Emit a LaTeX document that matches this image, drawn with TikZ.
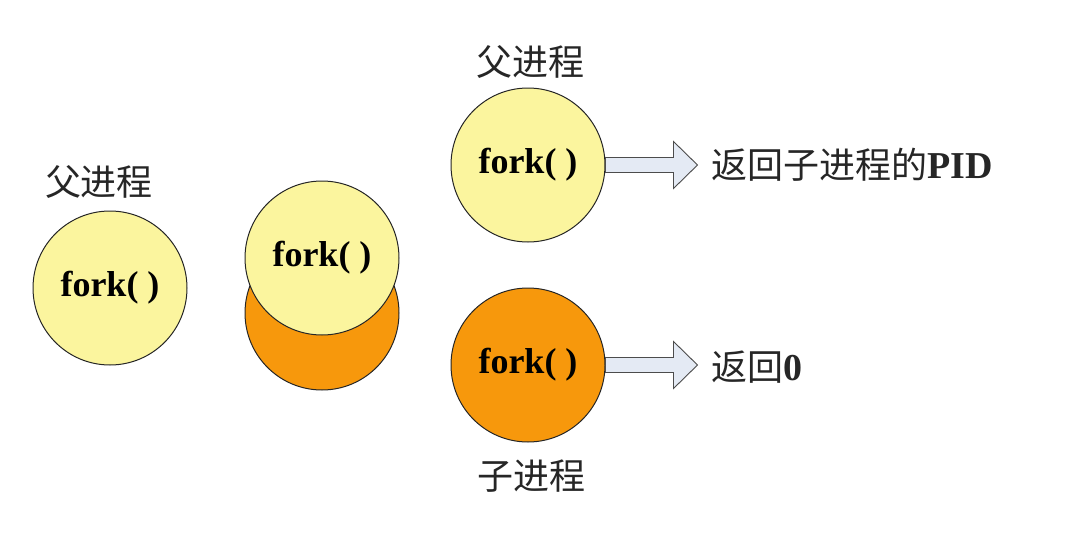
\documentclass[tikz,border=0pt]{standalone}
\usepackage{fontspec}
\setmainfont{Liberation Serif}
\newfontfamily\cjk{Noto Sans CJK SC}
\usepackage{tikz}

\definecolor{procyellow}{HTML}{FBF59E}
\definecolor{procorange}{HTML}{F7980C}
\definecolor{arrowfill}{HTML}{E4EAF4}

\begin{document}
\begin{tikzpicture}[x=1pt,y=-1pt]
  \useasboundingbox (0,0) rectangle (1074,541);

    \begin{scope}[shape=circle]
    \tikzstyle{every node}=[draw=black!85, line width=1pt, minimum size=154pt, inner sep=0pt, font=\fontsize{36}{40}\selectfont\bfseries]
    \node[fill=procyellow] (p1) at (110,288) {fork( )};
    \node[fill=procorange] (c2) at (322,313) {};
    \node[fill=procyellow] (p2) at (322,258) {fork( )};
    \node[fill=procyellow] (p3) at (528,165) {fork( )};
    \node[fill=procorange] (c3) at (528,365) {fork( )};
    \end{scope}

    \begin{scope}
    \tikzstyle{every node}=[text=black!85, font=\fontsize{36}{40}\selectfont]
    \node (l1) at (99,182) {\cjk 父进程};
    \node (l3) at (530,62) {\cjk 父进程};
    \node (l4) at (531,476) {\cjk 子进程};
    \node[anchor=west] (r3) at (708,165) {\cjk 返回子进程的\rmfamily\bfseries\fontsize{38}{40}\selectfont PID};
    \node[anchor=west] (r4) at (708,367) {\cjk 返回\rmfamily\bfseries\fontsize{38}{40}\selectfont 0};
    \end{scope}

  \begin{scope}[draw=black!70, line width=0.9pt, fill=arrowfill]
    \filldraw (p3.east) ++(0,-7.5) -- ++(68,0) -- ++(0,-16) -- ++(24,23.5) -- ++(-24,23.5) -- ++(0,-16) -- ++(-68,0) -- cycle;
    \filldraw (c3.east) ++(0,-7.5) -- ++(68,0) -- ++(0,-16) -- ++(24,23.5) -- ++(-24,23.5) -- ++(0,-16) -- ++(-68,0) -- cycle;
  \end{scope}

\end{tikzpicture}
\end{document}
